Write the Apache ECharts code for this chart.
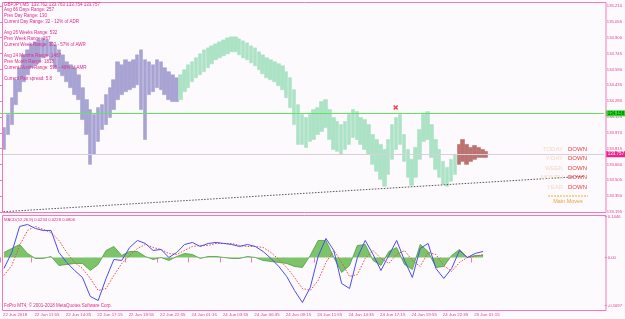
<!DOCTYPE html>
<html><head><meta charset="utf-8">
<script src="https://cdn.jsdelivr.net/npm/echarts@6/dist/echarts.min.js"></script>
<style>html,body{margin:0;padding:0;background:#fcfafc}#c{width:625px;height:319px}</style>
</head><body><div id="c"></div>
<script>
// ---------- data ----------
const timeTickLabels = ["22 Jun 2018","22 Jun 11:55","22 Jun 14:35","22 Jun 17:15","22 Jun 19:55","22 Jun 22:35","24 Jun 01:15","24 Jun 03:55","24 Jun 06:35","24 Jun 09:15","24 Jun 11:55","24 Jun 14:35","24 Jun 17:15","24 Jun 19:55","24 Jun 22:35","25 Jun 01:15"];
const priceTickLabels = ["133.195","133.350","133.505","133.660","133.815","133.970","134.125","134.280","134.435","134.590","134.745","134.900","135.055","135.210"];
const macdTickLabels = ["0.1446","0.00","-0.1697"];
const slotCount = 155; // 20-minute slots across the window

const priceHigh = [134.021,134.148,134.313,134.489,134.606,134.732,134.781,134.839,134.859,134.878,
134.898,134.878,134.859,134.830,134.781,134.732,134.664,134.635,134.606,134.537,
134.411,134.294,134.197,134.148,134.216,134.245,134.343,134.411,134.489,134.664,
134.635,134.684,134.664,134.684,134.732,134.781,134.684,134.664,134.635,134.684,
134.664,134.606,134.567,134.537,134.508,
134.537,134.586,134.635,134.664,134.703,
134.742,134.781,134.800,134.820,134.839,134.859,134.878,134.898,134.908,134.908,
134.888,134.869,134.849,134.820,134.800,134.762,134.732,134.703,134.684,134.664,
134.645,134.625,134.567,134.508,134.391,134.245,134.148,134.119,134.148,134.197,
134.216,134.275,134.294,134.197,134.119,134.080,134.050,134.080,134.148,134.197,
134.177,134.119,134.099,134.050,133.953,133.904,133.856,133.807,133.904,134.050,
134.119,134.148,133.953,133.807,133.710,133.826,134.002,134.148,134.177,134.050,
133.904,133.807,133.690,133.632,133.710,133.758,
133.856,133.904,133.856,133.826,133.846,133.826,133.807,133.788];
const priceLow = [133.807,133.953,134.050,134.245,134.372,134.469,134.537,134.606,134.635,134.664,
134.703,134.723,134.684,134.606,134.567,134.528,134.469,134.411,134.343,134.294,
134.099,133.953,133.661,133.758,133.885,134.002,134.050,134.119,134.197,134.294,
134.343,134.372,134.391,134.411,134.440,134.197,133.904,134.343,134.372,134.411,
134.391,134.343,134.294,134.275,134.275,
134.294,134.372,134.411,134.469,134.508,
134.537,134.567,134.606,134.645,134.684,134.703,134.723,134.742,134.762,134.762,
134.732,134.703,134.684,134.654,134.625,134.586,134.547,134.508,134.489,134.469,
134.430,134.391,134.313,134.216,134.050,133.856,133.856,133.826,133.885,133.904,
133.953,133.982,134.021,133.904,133.807,133.788,133.758,133.807,133.856,133.924,
133.904,133.856,133.807,133.758,133.661,133.593,133.515,133.447,133.563,133.710,
133.807,133.856,133.690,133.534,133.456,133.534,133.710,133.885,133.904,133.729,
133.612,133.534,133.466,133.447,133.495,133.563,
133.661,133.690,133.661,133.690,133.710,133.729,133.729,133.729];
const segmentEnds = [45, 116, 124]; // purple session, green session, red session

const macdMain = [-0.0389,0.0177,0.1095,0.1166,0.1025,0.0954,0.0954,0.0177,-0.0177,-0.0459,
-0.0707,-0.1378,-0.1519,-0.0742,-0.0071,-0.0106,0.0353,0.0601,0.0495,0.0247,
0.0283,0,0.0177,0.0459,0.0530,0.0389,0.0495,0.0530,0.0495,0.0459,
0.0389,0.0459,0.0389,0.0212,-0.0035,-0.0318,-0.0671,-0.1166,-0.1590,-0.1060,
0.0035,0.0671,0.0247,-0.0919,-0.1095,0,0.0601,0.0106,-0.0459,0.0071,
0.0601,-0.0106,-0.0707,0.0318,0.0495,-0.0389,-0.0742,-0.0389,0.0247,0,
0.0141,0.0212];
const macdSignal = [-0.0636,-0.0283,0.0424,0.0954,0.1095,0.0989,0.0883,0.0601,0.0177,-0.0177,
-0.0389,-0.0742,-0.1166,-0.1095,-0.0636,-0.0212,0.0071,0.0318,0.0459,0.0353,
0.0283,0.0141,0.0106,0.0247,0.0389,0.0424,0.0424,0.0495,0.0495,0.0495,
0.0424,0.0389,0.0389,0.0353,0.0177,-0.0071,-0.0353,-0.0707,-0.1095,-0.1166,
-0.0813,-0.0177,0.0247,-0.0177,-0.0671,-0.0601,-0.0035,0.0247,-0.0035,-0.0212,
0.0106,0.0247,-0.0106,-0.0318,0.0177,0.0106,-0.0283,-0.0495,-0.0177,0,
0.0035,0.0106];
const macdHist = [0.0177,0.0318,0.0459,0.0141,-0.0035,-0.0035,0.0035,-0.0283,-0.0247,-0.0212,
-0.0212,-0.0459,-0.0247,0.0247,0.0389,0.0071,0.0212,0.0212,0.0035,-0.0071,
0,-0.0106,0.0035,0.0141,0.0106,-0.0035,0.0035,0.0035,0,-0.0035,
-0.0035,0.0035,0,-0.0106,-0.0141,-0.0177,-0.0212,-0.0318,-0.0353,0.0071,
0.0601,0.0601,0,-0.0530,-0.0283,0.0424,0.0459,-0.0106,-0.0283,0.0212,
0.0353,-0.0247,-0.0424,0.0459,0.0212,-0.0353,-0.0318,0.0071,0.0283,0,
0.0071,0.0071];

const levelGreen = 134.158;
const lastPrice = 133.757;
const trendLine = [[0.9, 133.198], [148.7, 133.544]];
const signalMark = [[100.9, 134.216]];

const infoLines = ["GBPJPY,M5  133.762 133.763 133.754 133.757","Avg 66 Days Range: 257","Prev Day Range: 130","Current Day Range: 32 - 12% of ADR","","Avg 26 Weeks Range: 532","Prev Week Range: 267","Current Week Range: 302 - 57% of AWR","","Avg 24 Months Range: 1467","Prev Month Range: 1818","Current Month Range: 595 - 40% of AMR","","Current Pair spread: 5.8"];
const moveNames = ["TODAY","Y-DAY","WEEK","MONTH","YEAR"];
const moveDirs = ["DOWN","DOWN","DOWN","DOWN","DOWN"];
const macdTitle = "MACD(12,26,9) 0.0234 0.0228 0.0806";
const copyright = "FxPro MT4, \u00a9 2001-2018 MetaQuotes Software Corp.";

// ---------- chart ----------
const FONT = '"Liberation Sans", Arial, sans-serif';
const PINK = '#f478bc';
const LABEL = '#e0409a';
const cats = Array.from({length: slotCount}, (_, i) => String(i));

function candles(from, to) {
  const out = [];
  for (let i = from; i < to; i++) out.push([i + 1, priceLow[i], priceHigh[i], priceLow[i], priceHigh[i]]);
  return out;
}
const segColors = ['#a7a3d3', '#ace2c5', '#bd7272'];
const segStarts = [0, segmentEnds[0], segmentEnds[1]];
const candleSeries = segColors.map((c, s) => ({
  type: 'candlestick', xAxisIndex: 0, yAxisIndex: 0,
  encode: {x: 0, y: [1, 2, 3, 4]},
  data: candles(segStarts[s], segmentEnds[s]),
  barWidth: 4,
  itemStyle: {color: c, color0: c, borderColor: c, borderColor0: c, borderWidth: 0.6},
  silent: true
}));
candleSeries[0].markLine = {
  symbol: ['none', 'none'], silent: true, animation: false,
  data: [
    {yAxis: levelGreen, lineStyle: {color: '#5ce65c', width: 1, type: 'solid'},
     label: {show: true, position: 'end', distance: 2, formatter: levelGreen.toFixed(3), backgroundColor: '#22dd22', color: '#0a3a0a', fontSize: 4.5, fontFamily: FONT, padding: [1, 2, 0, 2]}},
    {yAxis: lastPrice, lineStyle: {color: '#d8d0d8', width: 1, type: 'solid'},
     label: {show: true, position: 'end', distance: 2, formatter: lastPrice.toFixed(3), backgroundColor: '#f0208c', color: '#ffffff', fontSize: 4.5, fontFamily: FONT, padding: [1, 2, 0, 2]}}
  ]
};

const idx = (arr) => arr.map((v, k) => [1 + 2 * k, v]);

const graphics = [
  {type: 'rect', z: 100, shape: {x: 2.5, y: 2.5, width: 603.5, height: 210}, style: {fill: 'none', stroke: PINK, lineWidth: 1}},
  {type: 'rect', z: 100, shape: {x: 2.5, y: 215.5, width: 603.5, height: 95}, style: {fill: 'none', stroke: PINK, lineWidth: 1}}
];
infoLines.forEach((t, n) => {
  if (!t) return;
  graphics.push({type: 'text', z: 100, x: 4, y: 4.5 + 5.75 * n,
    style: {text: t, fill: '#e0288c', font: '4.5px ' + FONT, textAlign: 'left', textVerticalAlign: 'middle', align: 'left', verticalAlign: 'middle'}});
});
moveNames.forEach((t, n) => {
  const y = 149 + 9.5 * n;
  graphics.push({type: 'text', z: 100, x: 563, y: y,
    style: {text: t, fill: '#f6d8c4', font: '6px ' + FONT, textAlign: 'right', textVerticalAlign: 'middle', align: 'right', verticalAlign: 'middle'}});
  graphics.push({type: 'text', z: 100, x: 568, y: y,
    style: {text: moveDirs[n], fill: '#ec3c3c', font: '6px ' + FONT, textAlign: 'left', textVerticalAlign: 'middle', align: 'left', verticalAlign: 'middle'}});
});
graphics.push({type: 'line', z: 100, shape: {x1: 548, y1: 196, x2: 588, y2: 196}, style: {stroke: '#f0a838', lineWidth: 1, lineDash: [2, 1]}});
graphics.push({type: 'text', z: 100, x: 568, y: 201,
  style: {text: 'Main Moves', fill: '#f0a040', font: '5.5px ' + FONT, textAlign: 'center', textVerticalAlign: 'middle', align: 'center', verticalAlign: 'middle'}});
graphics.push({type: 'text', z: 100, x: 4, y: 220,
  style: {text: macdTitle, fill: '#e0288c', font: '4.2px ' + FONT, textAlign: 'left', textVerticalAlign: 'middle', align: 'left', verticalAlign: 'middle'}});
graphics.push({type: 'text', z: 100, x: 4, y: 306,
  style: {text: copyright, fill: '#e0288c', font: '4.5px ' + FONT, textAlign: 'left', textVerticalAlign: 'middle', align: 'left', verticalAlign: 'middle'}});

const labelShown = (i) => i % 8 === 0 && i / 8 < timeTickLabels.length;

const option = {
  animation: false,
  backgroundColor: '#fcfafc',
  grid: [
    {left: -0.5, right: 19, top: 2, height: 210, show: false},
    {left: -0.5, right: 19, top: 215, height: 95, show: false}
  ],
  xAxis: [
    {gridIndex: 0, type: 'category', data: cats, boundaryGap: false, axisLine: {show: false}, axisTick: {show: false}, axisLabel: {show: false}, splitLine: {show: false}},
    {gridIndex: 1, type: 'category', data: cats, boundaryGap: false, axisLine: {show: false},
     axisTick: {show: true, interval: (i) => labelShown(i), length: 5, lineStyle: {color: PINK}},
     axisLabel: {interval: (i) => labelShown(i), formatter: (v, i) => labelShown(i) ? timeTickLabels[i / 8] : '', align: 'left', padding: [0, 0, 0, 3], margin: 3, fontSize: 4.4, fontFamily: FONT, color: LABEL},
     splitLine: {show: false}},
    {gridIndex: 0, type: 'value', min: 0, max: slotCount - 1, show: false}
  ],
  yAxis: [
    {gridIndex: 0, type: 'value', position: 'right', min: 133.195, max: 135.249, scale: true,
     axisLine: {show: false}, splitLine: {show: false},
     axisTick: {show: true, length: 2, customValues: priceTickLabels.map(Number), lineStyle: {color: PINK}},
     axisLabel: {customValues: priceTickLabels.map(Number), margin: 3, fontSize: 4.2, fontFamily: FONT, color: LABEL,
       formatter: (v) => priceTickLabels.find(s => Math.abs(Number(s) - v) < 1e-6) || ''}},
    {gridIndex: 1, type: 'value', position: 'right', min: -0.1855, max: 0.150,
     axisLine: {show: false}, splitLine: {show: false},
     axisTick: {show: true, length: 2, customValues: macdTickLabels.map(Number), lineStyle: {color: PINK}},
     axisLabel: {customValues: macdTickLabels.map(Number), margin: 3, fontSize: 4.2, fontFamily: FONT, color: LABEL,
       formatter: (v) => macdTickLabels.find(s => Math.abs(Number(s) - v) < 1e-6) || ''}}
  ],
  graphic: graphics,
  series: [
    ...candleSeries,
    {type: 'line', xAxisIndex: 2, yAxisIndex: 0, data: trendLine, symbol: 'none', silent: true,
     lineStyle: {color: '#555', width: 1, type: [1.5, 1.5]}},
    {type: 'scatter', xAxisIndex: 2, yAxisIndex: 0, data: signalMark, silent: true,
     symbol: 'path://M0,2L2,0L5,3L8,0L10,2L7,5L10,8L8,10L5,7L2,10L0,8L3,5Z', symbolSize: 5,
     itemStyle: {color: '#ee1111'}},
    {type: 'line', xAxisIndex: 1, yAxisIndex: 1, data: idx(macdHist), symbol: 'none', silent: true,
     lineStyle: {color: '#4f9c40', width: 0.8}, areaStyle: {color: '#7cc46a', opacity: 1}},
    {type: 'line', xAxisIndex: 1, yAxisIndex: 1, data: idx(macdSignal), symbol: 'none', silent: true,
     lineStyle: {color: '#ee4848', width: 1, type: [1.5, 1.5]}},
    {type: 'line', xAxisIndex: 1, yAxisIndex: 1, data: idx(macdMain), symbol: 'none', silent: true,
     lineStyle: {color: '#4c4cee', width: 1}}
  ]
};
const chart = echarts.init(document.getElementById('c'), null, {renderer: 'canvas'});
chart.setOption(option);
</script></body></html>
